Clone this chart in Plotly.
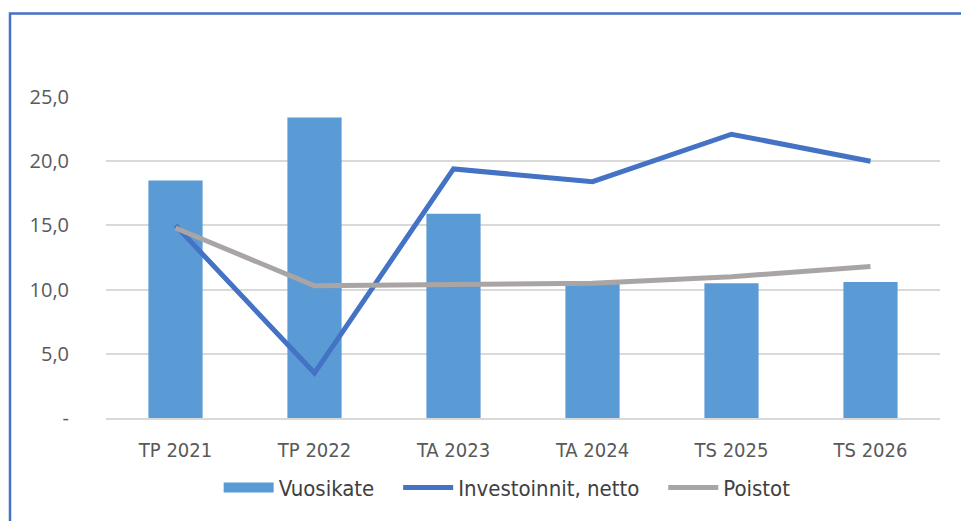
import plotly.graph_objects as go

categories = ["TP 2021", "TP 2022", "TA 2023", "TA 2024", "TS 2025", "TS 2026"]
vuosikate = [18.5, 23.4, 15.9, 10.5, 10.5, 10.6]
investoinnit = [15.0, 3.5, 19.4, 18.4, 22.1, 20.0]
poistot = [14.8, 10.3, 10.4, 10.5, 11.0, 11.8]
y_ticks = [0, 5, 10, 15, 20, 25]
y_tick_labels = ["-", "5,0", "10,0", "15,0", "20,0", "25,0"]

# page has an 8px body margin, so the figure sits 8px right/down in the window;
# keep it inside the 969x521 window so no scrollbars appear
W, H = 961, 513
L, R, T, B = 98, 29, 89, 101
narrow = "Liberation Sans Narrow, DejaVu Sans Condensed, sans-serif"

fig = go.Figure()
fig.add_trace(go.Bar(x=categories,
                     y=vuosikate,
                     name="Vuosikate",
                     marker=dict(color="#5B9BD5", line=dict(width=0)),
                     width=0.39,
                     showlegend=False))
# legend entry for the bars, drawn as a thick line so the swatch is a wide block
fig.add_trace(go.Scatter(x=[None],
                         y=[None],
                         name="Vuosikate   ",
                         mode="lines",
                         line=dict(color="#5B9BD5", width=12)))
fig.add_trace(go.Scatter(x=categories,
                         y=investoinnit,
                         name="Investoinnit, netto   ",
                         mode="lines",
                         line=dict(color="#4472C4", width=5)))
fig.add_trace(go.Scatter(x=categories,
                         y=poistot,
                         name="Poistot",
                         mode="lines",
                         line=dict(color="#A9A5A5", width=5)))

# blue frame round the chart (right and bottom edges fall outside the picture)
pw, ph = W - L - R, H - T - B
fig.add_shape(type="rect", xref="paper", yref="paper",
              x0=(2 - L) / pw, x1=(W + 20 - L) / pw,
              y0=-(H + 20 - (H - B)) / ph, y1=(H - B - 5) / ph,
              line=dict(color="#4472C4", width=2.5),
              fillcolor="rgba(0,0,0,0)", layer="above")

fig.update_layout(width=W,
                  height=H,
                  margin=dict(l=L, r=R, t=T, b=B),
                  plot_bgcolor="white",
                  paper_bgcolor="white",
                  showlegend=True,
                  legend=dict(orientation="h",
                              x=0.481,
                              xanchor="center",
                              y=-0.152,
                              yanchor="top",
                              font=dict(family=narrow, size=22, color="#404040"),
                              itemwidth=50,
                              traceorder="normal"),
                  bargap=0.61)
fig.update_xaxes(showgrid=False,
                 showline=True,
                 linecolor="#D9D9D9",
                 linewidth=1.5,
                 ticks="",
                 tickfont=dict(family=narrow, size=20, color="#595959"),
                 ticklabelstandoff=13)
fig.update_yaxes(range=[0, 25],
                 tickvals=y_ticks,
                 ticktext=y_tick_labels,
                 showgrid=True,
                 gridcolor="#D9D9D9",
                 gridwidth=1.5,
                 zeroline=False,
                 showline=False,
                 ticks="",
                 tickfont=dict(family="Open Sans, sans-serif", size=20, color="#595959"),
                 ticklabelstandoff=36)

fig.write_html("out.html")
